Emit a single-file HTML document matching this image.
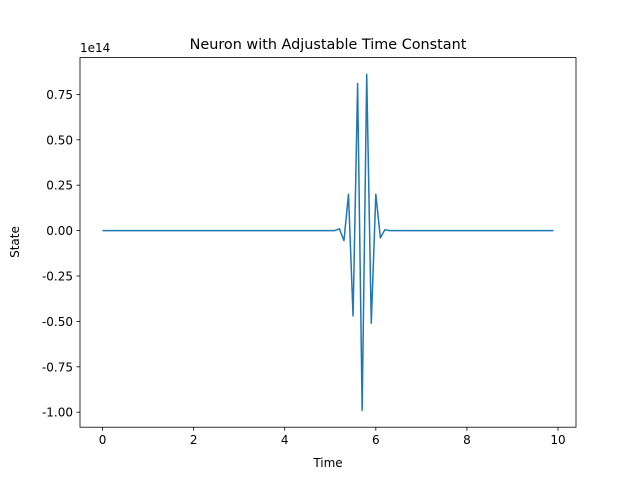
<!DOCTYPE html>
<html><head><meta charset="utf-8"><style>
body{margin:0;background:#fff;font-family:"DejaVu Sans","Liberation Sans",sans-serif;}
svg text{font-family:"DejaVu Sans","Liberation Sans",sans-serif;fill:#000;}
</style></head><body>
<svg id="chart" width="640" height="480" xmlns="http://www.w3.org/2000/svg"></svg>
<script>
const spikeTimes = [5.1,5.2,5.3,5.4,5.5,5.6,5.7,5.8,5.9,6.0,6.1,6.2];
const spikeValues = [0.0,0.01,-0.055,0.2,-0.47,0.81,-0.99,0.86,-0.51,0.2,-0.04,0.005];
const xTicks = [0,2,4,6,8,10];
const yTicks = [-1.00,-0.75,-0.50,-0.25,0.00,0.25,0.50,0.75];
const L=80,R=576,T=57.6,B=427.2;
const times=[],vals=[];
for(let i=0;i<100;i++){const t=+(i*0.1).toFixed(1);times.push(t);const k=spikeTimes.indexOf(t);vals.push(k>=0?spikeValues[k]:0);}
const x0=-0.495,x1=9.9+0.495;
const ymn=Math.min(...vals),ymx=Math.max(...vals),pad=(ymx-ymn)*0.05;
const y0=ymn-pad,y1=ymx+pad;
const sx=v=>L+(v-x0)/(x1-x0)*(R-L);
const sy=v=>B-(v-y0)/(y1-y0)*(B-T);
const svg=document.getElementById('chart');
const NS='http://www.w3.org/2000/svg';
function mk(tag,attrs,parent){const e=document.createElementNS(NS,tag);for(const k in attrs)e.setAttribute(k,attrs[k]);(parent||svg).appendChild(e);return e;}
let e=mk('text',{x:328,y:49,'text-anchor':'middle','font-size':'14.4'});e.textContent='Neuron with Adjustable Time Constant';


e=mk('text',{x:80,y:52,'font-size':'12'});e.textContent='1e14';


xTicks.forEach(t=>{const x=sx(t);
 const l=mk('line',{x1:x,x2:x,y1:B,y2:B+3.5,stroke:'#000','stroke-width':0.8});
 
 
 const tx=mk('text',{x:x,y:B+17,'text-anchor':'middle','font-size':'12'});tx.textContent=t;
 
 });
yTicks.forEach(t=>{const y=sy(t);
 const l=mk('line',{x1:L-3.5,x2:L,y1:y,y2:y,stroke:'#000','stroke-width':0.8});
 
 
 const tx=mk('text',{x:L-7,y:y+4.5,'text-anchor':'end','font-size':'12'});tx.textContent=t.toFixed(2);
 
 });
const line=mk('polyline',{points:times.map((t,i)=>sx(t)+','+sy(vals[i])).join(' '),fill:'none',stroke:'#1f77b4','stroke-width':1.5,'stroke-linejoin':'round'});


const fr=mk('rect',{x:L,y:T,width:R-L,height:B-T,fill:'none',stroke:'#000','stroke-width':0.8});


e=mk('text',{x:328,y:467,'text-anchor':'middle','font-size':'12'});e.textContent='Time';


e=mk('text',{x:19,y:242,'text-anchor':'middle','font-size':'12',transform:'rotate(-90 19 242)'});e.textContent='State';


</script>
</body></html>
